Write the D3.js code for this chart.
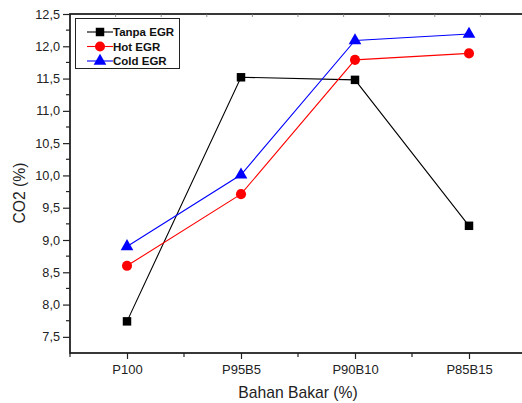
<!DOCTYPE html>
<html>
<head>
<meta charset="utf-8">
<script src="https://cdn.jsdelivr.net/npm/d3@7"></script>
<style>
  body { margin: 0; background: #fff; }
  text { font-family: "Liberation Sans", Arial, sans-serif; fill: #222; }
  .legend text { font-weight: bold; font-size: 11.5px; fill: #111; }
</style>
</head>
<body>
<div id="chart"></div>
<script>
var FUELS = ['P100', 'P95B5', 'P90B10', 'P85B15'];

var TANPA_EGR = [7.74, 11.52, 11.48, 9.22];
var HOT_EGR = [8.60, 9.71, 11.79, 11.89];
var COLD_EGR = [8.90, 10.01, 12.09, 12.19];

var Y_TICKS = [7.5, 8.0, 8.5, 9.0, 9.5, 10.0, 10.5, 11.0, 11.5, 12.0, 12.5];

var SERIES = [
    { name: 'Tanpa EGR', values: TANPA_EGR, color: '#000', shape: d3.symbolSquare },
    { name: 'Hot EGR', values: HOT_EGR, color: '#ff0000', shape: d3.symbolCircle },
    { name: 'Cold EGR', values: COLD_EGR, color: '#0000ff', shape: d3.symbolTriangle }
];

var w = 522, h = 403,
    plotL = 70, plotT = 14, plotR = 526, plotB = 353;

var svg = d3.select('#chart').append('svg')
    .attr('width', w)
    .attr('height', h);

// index 0..3 -> categories, axis spans -0.5..3.5
var x = d3.scaleLinear().domain([-0.5, 3.5]).range([plotL, plotR]);
var y = d3.scaleLinear().domain([7.25, 12.5]).range([plotB, plotT]);

// frame
svg.append('rect')
    .attr('x', plotL).attr('y', plotT)
    .attr('width', plotR - plotL).attr('height', plotB - plotT)
    .attr('fill', 'none').attr('stroke', '#222').attr('stroke-width', 1.8);

// small inner ticks on top edge
svg.append('g').selectAll('line')
    .data(d3.range(-0.5, 3.5, 0.4).slice(1))
    .enter().append('line')
    .attr('x1', function(d) { return x(d); })
    .attr('x2', function(d) { return x(d); })
    .attr('y1', plotT).attr('y2', plotT + 3)
    .attr('stroke', '#777').attr('stroke-width', 0.8);

// y axis
var yAxis = d3.axisLeft(y)
    .tickValues(Y_TICKS)
    .tickSize(7)
    .tickPadding(3)
    .tickFormat(function(d) { return d3.format('.1f')(d).replace('.', ','); });

var gy = svg.append('g')
    .attr('transform', 'translate(' + plotL + ',0)')
    .call(yAxis);
gy.select('.domain').remove();
gy.selectAll('line').attr('stroke', '#222').attr('stroke-width', 1.2);
gy.selectAll('text').style('font-size', '12.7px').attr('fill', '#222');

// y minor ticks
svg.append('g').selectAll('line')
    .data(d3.range(7.75, 12.5, 0.5))
    .enter().append('line')
    .attr('x1', plotL - 4).attr('x2', plotL)
    .attr('y1', function(d) { return y(d); })
    .attr('y2', function(d) { return y(d); })
    .attr('stroke', '#222').attr('stroke-width', 1.2);

// x axis
var xAxis = d3.axisBottom(x)
    .tickValues(d3.range(FUELS.length))
    .tickSize(6)
    .tickPadding(6)
    .tickFormat(function(d) { return FUELS[d]; });

var gx = svg.append('g')
    .attr('transform', 'translate(0,' + plotB + ')')
    .call(xAxis);
gx.select('.domain').remove();
gx.selectAll('line').attr('stroke', '#222').attr('stroke-width', 1.2);
gx.selectAll('text').style('font-size', '13px').attr('fill', '#222');

// x minor ticks between categories
svg.append('g').selectAll('line')
    .data([-0.5, 0.5, 1.5, 2.5])
    .enter().append('line')
    .attr('x1', function(d) { return x(d); })
    .attr('x2', function(d) { return x(d); })
    .attr('y1', plotB).attr('y2', plotB + 4)
    .attr('stroke', '#222').attr('stroke-width', 1.2);

// axis titles
svg.append('text')
    .attr('x', 298)
    .attr('y', 398)
    .attr('text-anchor', 'middle')
    .style('font-size', '15.7px')
    .text('Bahan Bakar (%)');

svg.append('text')
    .attr('transform', 'translate(25,193) rotate(-90)')
    .attr('text-anchor', 'middle')
    .style('font-size', '15.7px')
    .text('CO2 (%)');

// series
var line = d3.line()
    .x(function(d, i) { return x(i); })
    .y(function(d) { return y(d); });

function symbolSize(shape) {
    if (shape === d3.symbolSquare) return 72;
    if (shape === d3.symbolCircle) return 80;
    return 70;
}

SERIES.forEach(function(s) {
    var g = svg.append('g');
    g.append('path')
        .datum(s.values)
        .attr('d', line)
        .attr('fill', 'none')
        .attr('stroke', s.color)
        .attr('stroke-width', 1.1);

    g.selectAll('path.pt')
        .data(s.values)
        .enter().append('path')
        .attr('class', 'pt')
        .attr('transform', function(d, i) { return 'translate(' + x(i) + ',' + y(d) + ')'; })
        .attr('d', d3.symbol().type(s.shape).size(symbolSize(s.shape)))
        .attr('fill', s.color);
});

// legend
var legend = svg.append('g').attr('class', 'legend');
legend.append('rect')
    .attr('x', 75.5).attr('y', 18.5)
    .attr('width', 104).attr('height', 50)
    .attr('fill', '#fff').attr('stroke', '#222').attr('stroke-width', 1);

var rows = legend.selectAll('g.row')
    .data(SERIES)
    .enter().append('g')
    .attr('class', 'row')
    .attr('transform', function(d, i) { return 'translate(0,' + (32 + i * 14.5) + ')'; });

rows.append('line')
    .attr('x1', 87).attr('x2', 113)
    .attr('stroke', function(d) { return d.color; })
    .attr('stroke-width', 1.1);

rows.append('path')
    .attr('transform', 'translate(100,0)')
    .attr('d', function(d) { return d3.symbol().type(d.shape).size(symbolSize(d.shape))(); })
    .attr('fill', function(d) { return d.color; });

rows.append('text')
    .attr('x', 113)
    .attr('y', 4)
    .text(function(d) { return d.name; });
</script>
</body>
</html>
